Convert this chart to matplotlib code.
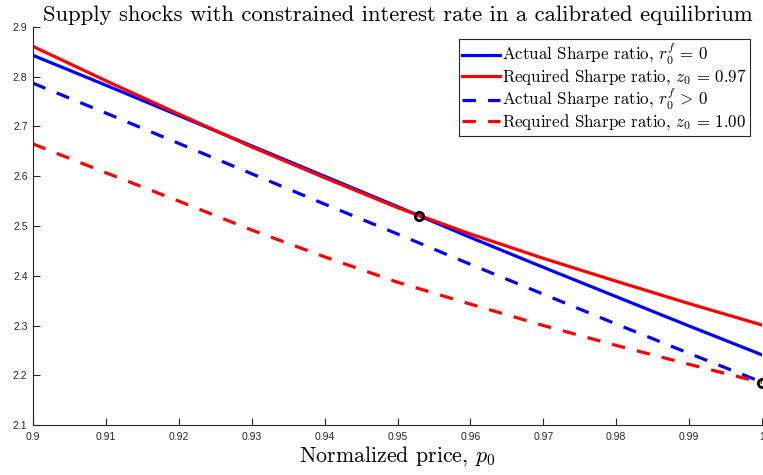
import matplotlib
matplotlib.use("Agg")
import matplotlib.pyplot as plt

# normalized price grid
p0 = [0.90, 0.91, 0.92, 0.93, 0.94, 0.95, 0.96, 0.97, 0.98, 0.99, 1.00]

# Sharpe ratios
actual_zero = [2.843, 2.783, 2.722, 2.661, 2.600, 2.539, 2.477, 2.417, 2.358, 2.299, 2.241]
required_097 = [2.861, 2.792, 2.725, 2.659, 2.597, 2.537, 2.484, 2.435, 2.389, 2.344, 2.301]
actual_pos = [2.787, 2.727, 2.666, 2.605, 2.544, 2.484, 2.423, 2.363, 2.303, 2.244, 2.186]
required_100 = [2.665, 2.607, 2.550, 2.492, 2.438, 2.387, 2.343, 2.300, 2.260, 2.222, 2.185]

# equilibrium points
eq_x = [0.953, 1.0]
eq_y = [2.520, 2.185]

labels = [r"Actual Sharpe ratio, $r_0^f\,=\,0$",
          r"Required Sharpe ratio, $z_0\,=\,0.97$",
          r"Actual Sharpe ratio, $r_0^f\,>\,0$",
          r"Required Sharpe ratio, $z_0\,=\,1.00$"]

xticks = [0.90, 0.91, 0.92, 0.93, 0.94, 0.95, 0.96, 0.97, 0.98, 0.99, 1.00]
xticklabels = ["0.9", "0.91", "0.92", "0.93", "0.94", "0.95", "0.96", "0.97", "0.98", "0.99", "1"]
yticks = [2.1, 2.2, 2.3, 2.4, 2.5, 2.6, 2.7, 2.8, 2.9]

plt.rcParams["mathtext.fontset"] = "cm"
plt.rcParams["axes.unicode_minus"] = False

fig = plt.figure(figsize=(7.63, 4.75), dpi=100)
ax = fig.add_axes([33 / 763, 1 - 425 / 475, 729 / 763, 398 / 475])

lw = 2.3
dash = (4.2, 3.8)
ax.plot(p0, actual_zero, color="b", lw=lw, label=labels[0])
ax.plot(p0, required_097, color="r", lw=lw, label=labels[1])
ax.plot(p0, actual_pos, color="b", lw=lw, dashes=dash, label=labels[2])
ax.plot(p0, required_100, color="r", lw=lw, dashes=dash, label=labels[3])
ax.plot(eq_x, eq_y, "o", color="k", mfc="none", mew=2.0, ms=6, clip_on=False, zorder=5)

ax.set_xlim(0.9, 1.0)
ax.set_ylim(2.1, 2.9)
ax.set_xticks(xticks)
ax.set_xticklabels(xticklabels)
ax.set_yticks(yticks)
ax.set_yticklabels([f"{v:.1f}" for v in yticks])

for s in ["top", "right"]:
    ax.spines[s].set_visible(False)
for s in ["left", "bottom"]:
    ax.spines[s].set_color("#262626")
    ax.spines[s].set_linewidth(0.8)
ax.tick_params(direction="in", length=5, width=0.8, color="#262626",
               labelcolor="#262626", labelsize=7.5)
ax.tick_params(axis="x", pad=5)
ax.tick_params(axis="y", pad=4)
for t in ax.get_xticklabels() + ax.get_yticklabels():
    t.set_family("Liberation Sans")

ax.set_title("Supply shocks with constrained interest rate in a calibrated equilibrium",
             family="cmr10", fontsize=16.3, pad=4)
ax.set_xlabel(r"Normalized price, $p_0$", family="cmr10", fontsize=15.8, labelpad=2)

leg = ax.legend(loc="upper right", bbox_to_anchor=(0.9835, 0.970),
                prop={"family": "cmr10", "size": 12.2}, fancybox=False,
                edgecolor="#262626", framealpha=1, handlelength=2.2,
                handletextpad=0.15, borderpad=0.2, labelspacing=0.0,
                borderaxespad=0)
leg.get_frame().set_linewidth(0.8)

fig.savefig("out.png", dpi=100)
